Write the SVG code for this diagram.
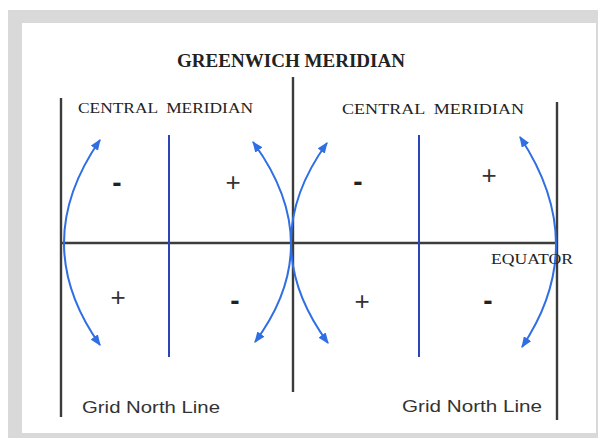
<svg xmlns="http://www.w3.org/2000/svg" width="598" height="438" viewBox="0 0 598 438">
  <defs>
    <marker id="ah" viewBox="0 0 10 8" refX="9" refY="4" markerWidth="11" markerHeight="9" markerUnits="userSpaceOnUse" orient="auto-start-reverse">
      <path d="M0,0 L10,4 L0,8 z" fill="#2f6fe3"/>
    </marker>
  </defs>
  <style>
    .frame { fill: #d9d9d9; }
    .inner { fill: #ffffff; }
    .blk { stroke: #3c3c3c; stroke-width: 2.4; fill: none; }
    .cm { stroke: #2b44b8; stroke-width: 2; fill: none; }
    .arc { stroke: #2f6fe3; stroke-width: 2; fill: none; marker-start: url(#ah); marker-end: url(#ah); }
    .serif { font-family: "Liberation Serif", "Times New Roman", serif; fill: #222222; }
    .sans { font-family: "Liberation Sans", Arial, sans-serif; fill: #333333; }
    .sign { font-family: "Liberation Sans", Arial, sans-serif; font-size: 26px; fill: #333333; text-anchor: middle; }
    .minus { font-family: "Liberation Sans", Arial, sans-serif; font-size: 28px; font-weight: bold; fill: #222222; text-anchor: middle; }
  </style>
  <rect x="0" y="0" width="598" height="438" fill="#ffffff"/>
  <rect class="frame" x="8" y="10" width="590" height="428"/>
  <rect class="inner" x="22" y="23" width="574" height="410"/>

  <g id="lines">
    <line id="greenwich" class="blk" x1="293" y1="77" x2="293" y2="392"/>
    <line id="left-border" class="blk" x1="61" y1="98" x2="61" y2="417"/>
    <line id="right-border" class="blk" x1="557" y1="102" x2="557" y2="420"/>
    <line id="equator-line" class="blk" x1="61" y1="243" x2="558" y2="243"/>
    <line id="cm-left" class="cm" x1="169" y1="135" x2="169" y2="357"/>
    <line id="cm-right" class="cm" x1="419" y1="135" x2="419" y2="357"/>
  </g>

  <g id="connectors">
    <path class="arc" d="M100,140 Q28,243.5 100,345"/>
    <path class="arc" d="M253,142 Q328,244 255,342"/>
    <path class="arc" d="M327,143 Q254.5,243 328,343"/>
    <path class="arc" d="M520,137 Q591,244 522,347"/>
  </g>

  <g id="labels">
    <text class="serif" x="177" y="67" font-size="18" font-weight="bold" textLength="228" lengthAdjust="spacingAndGlyphs">GREENWICH MERIDIAN</text>
    <text class="serif" x="78" y="113" font-size="14" textLength="175" lengthAdjust="spacingAndGlyphs" xml:space="preserve">CENTRAL  MERIDIAN</text>
    <text class="serif" x="342" y="114" font-size="14" textLength="182" lengthAdjust="spacingAndGlyphs" xml:space="preserve">CENTRAL  MERIDIAN</text>
    <text class="serif" x="491" y="264" font-size="15" textLength="82" lengthAdjust="spacingAndGlyphs">EQUATOR</text>
    <text class="sans" x="82" y="413" font-size="17" textLength="138" lengthAdjust="spacingAndGlyphs">Grid North Line</text>
    <text class="sans" x="402" y="412" font-size="17" textLength="140" lengthAdjust="spacingAndGlyphs">Grid North Line</text>
  </g>

  <g id="signs">
    <text class="minus" x="117" y="192">-</text>
    <text class="sign" x="233" y="191">+</text>
    <text class="minus" x="358" y="191">-</text>
    <text class="sign" x="489" y="184">+</text>
    <text class="sign" x="118" y="306">+</text>
    <text class="minus" x="235" y="310">-</text>
    <text class="sign" x="362" y="310">+</text>
    <text class="minus" x="488" y="310">-</text>
  </g>
</svg>
